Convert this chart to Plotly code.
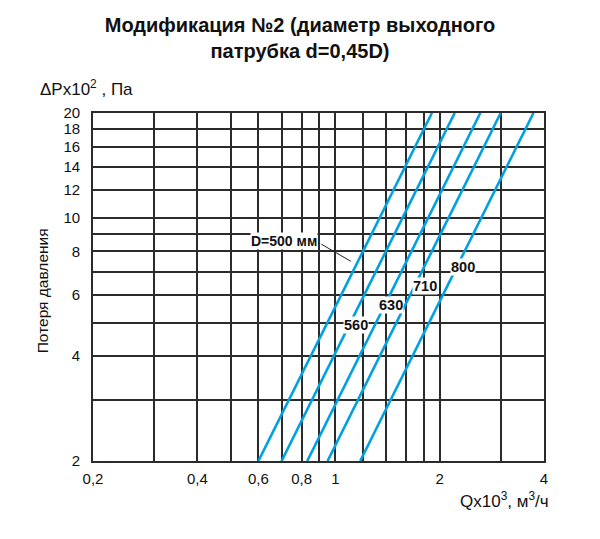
import numpy as np
import plotly.graph_objects as go

# данные (Q в тыс. м3/ч при ΔP = 2 и 20 x10^2 Па)
diametry = ["500", "560", "630", "710", "800"]
q_pri_p2 = [0.6, 0.7, 0.83, 0.95, 1.18]
q_pri_p20 = [1.9, 2.21, 2.62, 3.0, 3.73]
p_kraya = [2, 20]

x_setka = [0.2, 0.3, 0.4, 0.5, 0.6, 0.7, 0.8, 0.9, 1, 1.2, 1.4, 1.6, 1.8, 2, 3, 4]
x_podpisi = ["0,2", "", "0,4", "", "0,6", "", "0,8", "", "1", "", "", "", "", "2", "", "4"]
y_setka = [2, 3, 4, 5, 6, 7, 8, 9, 10, 12, 14, 16, 18, 20]
y_podpisi = ["2", "", "4", "", "6", "", "8", "", "10", "12", "14", "16", "18", "20"]

cvet_linii = "#00a0e3"
cvet_setki = "#2b2b2b"
shrift = "Liberation Sans, Arial, sans-serif"

fig = go.Figure()
for d, q1, q2 in zip(diametry, q_pri_p2, q_pri_p20):
    fig.add_trace(go.Scatter(x=[q1, q2], y=p_kraya, mode="lines", name=d,
                             line=dict(color=cvet_linii, width=2.6), hoverinfo="skip"))

osi = dict(type="log", showgrid=True, gridcolor=cvet_setki, gridwidth=1.5,
           showline=True, mirror=True, linecolor=cvet_setki, linewidth=1.6,
           zeroline=False, ticks="", tickfont=dict(family=shrift, size=15, color="#111"))
fig.update_xaxes(range=[np.log10(0.2), np.log10(4)], tickmode="array",
                 tickvals=x_setka, ticktext=x_podpisi, ticklabelstandoff=3, **osi)
fig.update_yaxes(range=[np.log10(2), np.log10(20)], tickmode="array",
                 tickvals=y_setka, ticktext=y_podpisi, ticklabelstandoff=8, **osi)

# подписи линий с белой подложкой
metki = [("560", 1.146, 4.93), ("630", 1.448, 5.63), ("710", 1.815, 6.37), ("800", 2.34, 7.22)]
for txt, qx, py in metki:
    fig.add_annotation(x=np.log10(qx), y=np.log10(py), text=txt, showarrow=False,
                       bgcolor="white", borderpad=0,
                       font=dict(family=shrift, size=14.5, color="#111", weight="bold"))
fig.add_annotation(x=np.log10(0.711), y=np.log10(8.6), text="D=500 мм", showarrow=False,
                   bgcolor="white", borderpad=0,
                   font=dict(family=shrift, size=14, color="#111", weight="bold"))
fig.add_annotation(x=np.log10(1.108), y=np.log10(7.5), text=" ", showarrow=True,
                   arrowhead=0, arrowwidth=1, arrowcolor="#222", ax=-31, ay=-18,
                   font=dict(size=1))

# подписи осей
fig.add_annotation(xref="paper", yref="paper", x=-0.122, y=1.035, xanchor="left", yanchor="bottom",
                   text="ΔPx10<sup>2</sup> , Па", showarrow=False,
                   font=dict(family=shrift, size=17, color="#111"))
fig.add_annotation(xref="paper", yref="paper", x=1.015, y=-0.075, xanchor="right", yanchor="top",
                   text="Qx10<sup>3</sup>, м<sup>3</sup>/ч", showarrow=False,
                   font=dict(family=shrift, size=17, color="#111"))
fig.add_annotation(xref="paper", yref="paper", x=-0.088, y=0.49, xanchor="right", yanchor="middle",
                   text="Потеря давления", textangle=-90, showarrow=False,
                   font=dict(family=shrift, size=15.5, color="#111"))

fig.update_layout(
    width=600, height=539,
    margin=dict(l=93, r=56, t=113, b=78),
    paper_bgcolor="white", plot_bgcolor="white",
    showlegend=False,
    title=dict(text="<b>Модификация №2 (диаметр выходного<br>патрубка d=0,45D)</b>",
               x=0.5, xanchor="center", y=0.94, yanchor="top",
               font=dict(family=shrift, size=20, color="#111")),
)

fig.write_html("out.html", config={"displayModeBar": False},
               post_script="document.body.style.margin='0';")
